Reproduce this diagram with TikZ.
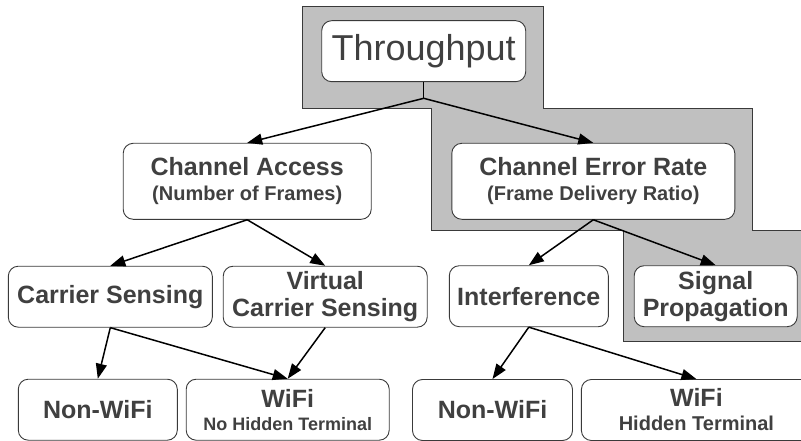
\documentclass[tikz,border=0pt]{standalone}
\usepackage{fontspec}
\setmainfont{Liberation Sans}
\usetikzlibrary{arrows.meta, positioning, backgrounds}
\definecolor{text_gray}{HTML}{404040}
\definecolor{box_line}{HTML}{3A3A3A}
\definecolor{shade_gray}{HTML}{C0C0C0}
\tikzstyle{metric_node} = [rectangle, rounded corners=10pt, draw=box_line, line width=0.9pt, fill=white, text=text_gray, align=center, minimum height=61pt, inner sep=2pt, font=\bfseries\fontsize{25}{27.5}\selectfont]
\tikzstyle{tree_arrow} = [line width=1.5pt, -{Triangle[length=15pt, width=11pt]}]
\newcommand{\subline}[2]{{\fontsize{#1}{#1}\selectfont #2}}

\begin{document}
\begin{tikzpicture}[x=1pt, y=-1pt]
\useasboundingbox (0,0) rectangle (801,441);
\node (tp) [metric_node, minimum width=204pt, font=\fontsize{36}{36}\selectfont] at (423.7,51.2) {Throughput};
\node (ca) [metric_node, minimum width=248pt, minimum height=76pt, font=\bfseries\fontsize{25}{25}\selectfont] at (247.2,181.3) {Channel Access\\\subline{20}{(Number of Frames)}};
\node (cer) [metric_node, minimum width=283pt, minimum height=76pt, font=\bfseries\fontsize{25}{25}\selectfont] at (593.3,181.3) {Channel Error Rate\\\subline{20}{(Frame Delivery Ratio)}};
\node (cs) [metric_node, minimum width=204pt] at (110.3,296.7) {Carrier Sensing};
\node (vcs) [metric_node, minimum width=204pt, right=10pt of cs] {Virtual\\Carrier Sensing};
\node (intf) [metric_node, minimum width=159pt] at (528.8,296.2) {Interference};
\node (sp) [metric_node, minimum width=163pt, right=25pt of intf, font=\bfseries\fontsize{25}{27}\selectfont] {Signal\\Propagation};
\node (nw1) [metric_node, minimum width=159pt] at (97.8,409.7) {Non-WiFi};
\node (wf1) [metric_node, minimum width=203pt, right=8pt of nw1, font=\bfseries\fontsize{25}{23}\selectfont] {WiFi\\\subline{18}{No Hidden Terminal}};
\node (nw2) [metric_node, minimum width=160pt] at (492.5,410) {Non-WiFi};
\node (wf2) [metric_node, minimum width=230pt, right=8pt of nw2, font=\bfseries\fontsize{25}{24}\selectfont] {WiFi\\\subline{20}{Hidden Terminal}};

\begin{pgfonlayer}{background}
        \draw [fill=shade_gray, draw=box_line, line width=0.9pt] (302.7,6.7) -| (543.3,108.3) -| (752.3,230) -| (815,341.7) -| (623.3,230) -| (431.7,108.3) -| (302.7,6.7) -- cycle;
\end{pgfonlayer}

\coordinate (tp_split) at (423.7,98.3);
\draw [line width=1.5pt] (tp.south) -- (tp_split);
\draw [tree_arrow] (tp_split) -- (ca.north);
\draw [tree_arrow] (tp_split) -- (cer.north);
\draw [tree_arrow] (ca.south) -- (cs.north);
\draw [tree_arrow] (ca.south) -- (vcs.north);
\draw [tree_arrow] (cer.south) -- (intf.north);
\draw [tree_arrow] (cer.south) -- (sp.north);
\draw [tree_arrow] (cs.south) -- (nw1.north);
\draw [tree_arrow] (cs.south) -- (wf1.north);
\draw [tree_arrow] (vcs.south) -- (wf1.north);
\draw [tree_arrow] (intf.south) -- (nw2.north);
\draw [tree_arrow] (intf.south) -- (wf2.north);
\end{tikzpicture}
\end{document}
